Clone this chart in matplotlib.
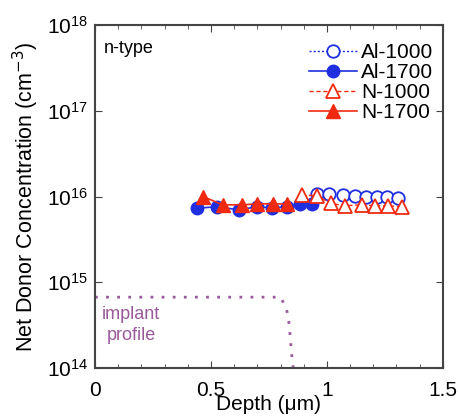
import numpy as np
import matplotlib.pyplot as plt
from matplotlib.ticker import LogLocator, NullFormatter, MultipleLocator

plt.rcParams['font.family'] = ['Liberation Sans', 'DejaVu Sans']

# data
al1000_x = [0.957, 1.01, 1.07, 1.12, 1.17, 1.215, 1.26, 1.306]
al1000_y = [1.07e16, 1.08e16, 1.05e16, 1.02e16, 1.0e16, 0.99e16, 0.98e16, 0.97e16]

al1700_x = [0.44, 0.526, 0.62, 0.70, 0.763, 0.83, 0.884, 0.935]
al1700_y = [7.3e15, 7.6e15, 7.0e15, 7.6e15, 7.4e15, 7.6e15, 8.2e15, 8.2e15]

n1000_x = [0.892, 0.957, 1.017, 1.078, 1.15, 1.207, 1.263, 1.323]
n1000_y = [1.05e16, 1.02e16, 8.3e15, 7.8e15, 8.0e15, 7.8e15, 7.8e15, 7.6e15]

n1700_x = [0.466, 0.55, 0.634, 0.70, 0.767, 0.83]
n1700_y = [1.0e16, 8.0e15, 8.0e15, 8.2e15, 8.2e15, 8.2e15]

implant_x = [0.0, 0.80, 0.825, 0.835, 0.84, 0.845, 0.85, 0.855]
implant_y = [6.7e14, 6.7e14, 5.0e14, 3.6e14, 2.6e14, 1.8e14, 1.25e14, 1.0e14]

blue = '#1f2fe0'
red = '#f02a10'
purple = '#9a5a9a'

fig = plt.figure(figsize=(4.58, 4.19), dpi=100)
ax = fig.add_axes([0.2074, 0.1217, 0.7596, 0.8186])

ax.plot(implant_x, implant_y, linestyle=(0, (1, 3)), color=purple, linewidth=2)

ax.plot(al1000_x, al1000_y, linestyle=(0, (1.5, 1.5)), color=blue, marker='o', markersize=9,
        markerfacecolor='white', markeredgecolor=blue, markeredgewidth=1.3, linewidth=1, label='Al-1000')
ax.plot(al1700_x, al1700_y, linestyle='-', color=blue, marker='o', markersize=9,
        markerfacecolor=blue, markeredgecolor=blue, linewidth=1.2, label='Al-1700')
ax.plot(n1000_x, n1000_y, linestyle=(0, (3, 2)), color=red, marker='^', markersize=10,
        markerfacecolor='white', markeredgecolor=red, markeredgewidth=1.3, linewidth=1, label='N-1000')
ax.plot(n1700_x, n1700_y, linestyle='-', color=red, marker='^', markersize=10,
        markerfacecolor=red, markeredgecolor=red, linewidth=1.2, label='N-1700')

ax.set_yscale('log')
ax.set_xlim(0, 1.5)
ax.set_ylim(1e14, 1e18)
ax.set_xticks([0, 0.5, 1, 1.5])
ax.set_xticklabels(['0', '0.5', '1', '1.5'])
ax.xaxis.set_minor_locator(MultipleLocator(0.1))
ax.yaxis.set_major_locator(LogLocator(base=10, numticks=10))
ax.yaxis.set_minor_locator(LogLocator(base=10, subs=[], numticks=10))
ax.yaxis.set_minor_formatter(NullFormatter())
ax.tick_params(which='both', direction='in', top=True, right=True, labelsize=15,
               colors='#444444', labelcolor='black')
ax.tick_params(which='major', length=5, pad=5)
ax.tick_params(axis='x', which='major', pad=9)
ax.tick_params(which='minor', length=3)
for s in ax.spines.values():
    s.set_linewidth(1.5)
    s.set_color('#444444')

ax.set_xlabel('Depth (\u03bcm)', fontsize=15, labelpad=-3)
ax.set_ylabel('Net Donor Concentration (cm$^{-3}$)', fontsize=15.5, labelpad=4)

ax.text(0.025, 0.955, 'n-type', transform=ax.transAxes, fontsize=13, va='top', ha='left')
ax.text(0.155, 5.3e14, 'implant\nprofile', fontsize=13, color=purple, ha='center', va='top',
        linespacing=1.35)

leg = ax.legend(loc='upper right', bbox_to_anchor=(0.985, 0.96), frameon=False, fontsize=15,
                handlelength=2.3, handletextpad=0.2, labelspacing=0.05, borderaxespad=0.0,
                borderpad=0.2)

fig.savefig('out.png', dpi=100)
